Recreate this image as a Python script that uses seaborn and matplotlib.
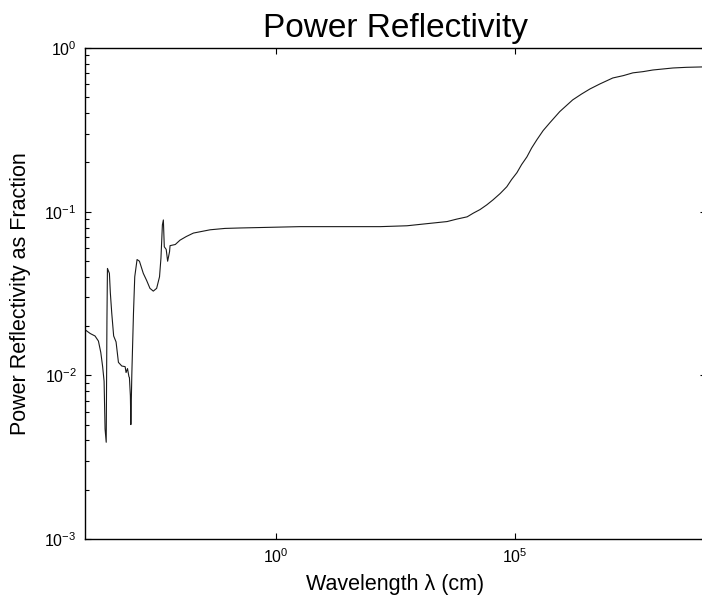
import matplotlib
matplotlib.use("Agg")
import matplotlib.pyplot as plt
import matplotlib.ticker as mticker
import seaborn as sns
import pandas as pd

# Wavelength (cm) and power reflectivity
wavelength_cm = [
    1.0e-4, 1.29e-4, 1.62e-4, 1.91e-4, 2.14e-4, 2.34e-4, 2.51e-4, 2.63e-4,
    2.78e-4, 2.88e-4, 2.95e-4, 3.24e-4, 3.39e-4, 3.63e-4, 3.98e-4, 4.47e-4,
    5.01e-4, 5.89e-4, 6.92e-4, 7.24e-4, 7.76e-4, 8.32e-4, 8.51e-4, 8.91e-4,
    9.12e-4, 9.55e-4, 1.035e-3, 1.10e-3, 1.23e-3, 1.38e-3, 1.66e-3, 1.95e-3,
    2.29e-3, 2.69e-3, 3.16e-3, 3.63e-3, 3.89e-3, 4.17e-3, 4.37e-3, 4.57e-3,
    5.01e-3, 5.37e-3, 5.89e-3, 6.03e-3, 7.76e-3, 9.77e-3, 1.32e-2, 1.86e-2,
    4.17e-2, 8.5e-2, 0.178, 0.47, 3.16, 151.0, 550.0, 1.2e3, 3.8e3, 6.0e3,
    1.0e4, 1.35e4, 1.86e4, 2.57e4, 3.47e4, 4.9e4, 6.76e4, 8.5e4, 1.10e5,
    1.38e5, 1.78e5, 2.24e5, 2.88e5, 3.9e5, 5.37e5, 8.7e5, 1.62e6, 2.5e6,
    3.72e6, 6.0e6, 1.12e7, 1.86e7, 2.95e7, 4.8e7, 7.76e7, 2.04e8, 3.9e8,
    8.1e8, 1.0e9,
]
reflectivity = [
    0.019, 0.018, 0.0174, 0.0162, 0.0138, 0.0113, 0.0092, 0.0047,
    0.0039, 0.0219, 0.045, 0.042, 0.032, 0.024, 0.0174, 0.016,
    0.012, 0.0114, 0.0113, 0.0104, 0.011, 0.0098, 0.0097, 0.0075,
    0.0050, 0.0101, 0.024, 0.040, 0.051, 0.0498, 0.042, 0.038,
    0.034, 0.0327, 0.034, 0.040, 0.052, 0.083, 0.089, 0.061,
    0.0588, 0.0498, 0.057, 0.062, 0.063, 0.067, 0.0705, 0.074,
    0.0775, 0.079, 0.0795, 0.080, 0.081, 0.081, 0.082, 0.084, 0.087, 0.090,
    0.093, 0.098, 0.103, 0.110, 0.118, 0.129, 0.142, 0.157, 0.173,
    0.194, 0.216, 0.245, 0.275, 0.313, 0.349, 0.409, 0.482, 0.524,
    0.562, 0.603, 0.656, 0.678, 0.705, 0.717, 0.734, 0.755, 0.762,
    0.766, 0.766,
]
x_ticks = [1.0, 1.0e5]
title_text = "Power Reflectivity"
x_label = "Wavelength \u03bb (cm)"
y_label = "Power Reflectivity as Fraction"

sns.set_theme(style="ticks")
plt.rcParams["font.family"] = ["Liberation Sans", "DejaVu Sans"]
plt.rcParams["mathtext.fontset"] = "custom"
plt.rcParams["mathtext.rm"] = "Liberation Sans"
plt.rcParams["mathtext.it"] = "Liberation Sans:italic"
plt.rcParams["mathtext.bf"] = "Liberation Sans:bold"
plt.rcParams["mathtext.default"] = "regular"

df = pd.DataFrame({"wavelength": wavelength_cm, "reflectivity": reflectivity})

fig = plt.figure(figsize=(7.02, 6.08), dpi=100)
ax = fig.add_axes([85 / 702, (608 - 539) / 608, (706 - 85) / 702, (539 - 48) / 608])

sns.lineplot(data=df, x="wavelength", y="reflectivity", ax=ax, color="#1a1a1a",
             linewidth=0.8, estimator=None, sort=False)
ax.set_xscale("log")
ax.set_yscale("log")
ax.set_xlim(1e-4, 1e9)
ax.set_ylim(1e-3, 1e0)

ax.set_xticks(x_ticks)
ax.xaxis.set_minor_locator(mticker.NullLocator())
ax.xaxis.set_major_formatter(mticker.LogFormatterSciNotation())
ax.yaxis.set_major_locator(mticker.LogLocator(base=10, numticks=10))
ax.yaxis.set_minor_locator(mticker.LogLocator(base=10, subs=range(2, 10), numticks=10))
ax.yaxis.set_minor_formatter(mticker.NullFormatter())

for s in ax.spines.values():
    s.set_linewidth(1.0)
    s.set_color("black")

ax.tick_params(which="both", direction="in", top=True, right=True,
               colors="black", labelsize=11.5, width=0.8)
ax.tick_params(which="major", length=4.5, pad=6)
ax.tick_params(which="minor", length=3.0)

ax.set_title(title_text, fontsize=24, pad=8, color="black")
ax.set_xlabel(x_label, fontsize=15.5, labelpad=6, color="black")
ax.set_ylabel(y_label, fontsize=15.5, labelpad=10, color="black")
ax.grid(False)

fig.savefig("out.png", dpi=100, facecolor="white")
